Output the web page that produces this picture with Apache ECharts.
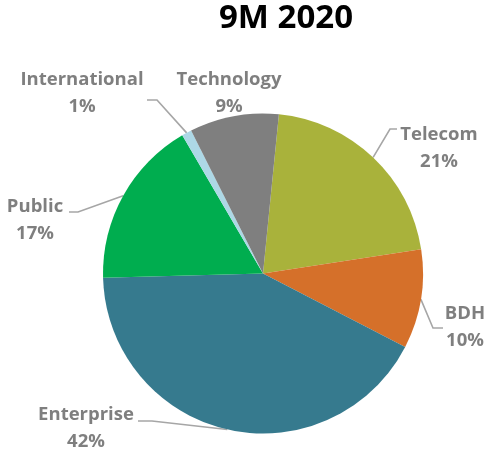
<!DOCTYPE html>
<html>
<head>
<meta charset="utf-8">
<script src="https://cdn.jsdelivr.net/npm/echarts@6/dist/echarts.min.js"></script>
<style>
  html, body { margin: 0; padding: 0; background: #ffffff; }
  #chart { width: 489px; height: 457px; }
</style>
</head>
<body>
<div id="chart"></div>
<script>
// Revenue split by segment, 9M 2020 (percent)
const titleText = '9M 2020';
const segments = ['Telecom', 'BDH', 'Enterprise', 'Public', 'International', 'Technology'];
const shares = [21, 10, 42, 17, 1, 9];
const segmentColors = ['#A9B23B', '#D5702A', '#367A8E', '#00AD4F', '#ADD8E6', '#7F7F7F'];

// Label placement: label centre, and where its leader line meets the text
// (elbow = end of the short horizontal run next to the text)
const labelPlacement = {
  'Telecom':       { x: 439, y: 148, end: [397, 129], elbow: [390, 129] },
  'BDH':           { x: 465, y: 327, end: [443, 328], elbow: [433, 328] },
  'Enterprise':    { x: 86,  y: 428, end: [138, 421], elbow: [152, 421] },
  'Public':        { x: 35,  y: 220, end: [69, 212],  elbow: [78, 212] },
  'International': { x: 82,  y: 93,  end: [147, 100], elbow: [157, 100] },
  'Technology':    { x: 229, y: 93,  end: null,       elbow: null }
};

const chart = echarts.init(document.getElementById('chart'), null, { renderer: 'canvas' });

const pieData = segments.map((name, i) => ({
  name: name,
  value: shares[i],
  itemStyle: { color: segmentColors[i] },
  labelLine: { show: labelPlacement[name].end !== null }
}));

chart.setOption({
  animation: false,
  backgroundColor: '#ffffff',
  graphic: [{
    type: 'text',
    x: 286,
    y: 2,
    style: {
      text: titleText,
      fill: '#000000',
      font: 'bold 33px "Open Sans"',
      textAlign: 'center',
      textVerticalAlign: 'top'
    }
  }],
  series: [{
    type: 'pie',
    center: [263, 273.5],
    radius: 160,
    startAngle: 84.3,
    clockwise: true,
    data: pieData,
    emphasis: { disabled: true },
    itemStyle: { borderWidth: 0 },
    avoidLabelOverlap: false,
    label: {
      show: true,
      position: 'outside',
      alignTo: 'none',
      overflow: 'none',
      width: 200,
      formatter: '{b}\n{c}%',
      color: '#7F7F7F',
      fontFamily: 'Open Sans',
      fontWeight: 'bold',
      fontSize: 18.5,
      lineHeight: 27,
      align: 'center'
    },
    labelLine: {
      show: true,
      lineStyle: { color: '#A6A6A6', width: 1.6 }
    },
    labelLayout: function (params) {
      const name = segments[params.dataIndex];
      const p = labelPlacement[name];
      const out = { x: p.x, y: p.y, align: 'center', verticalAlign: 'middle', hideOverlap: false };
      if (p.end && params.labelLinePoints && params.labelLinePoints.length) {
        const edge = params.labelLinePoints[0];
        out.labelLinePoints = [edge, p.elbow, p.end];
      }
      return out;
    }
  }]
});
</script>
</body>
</html>
